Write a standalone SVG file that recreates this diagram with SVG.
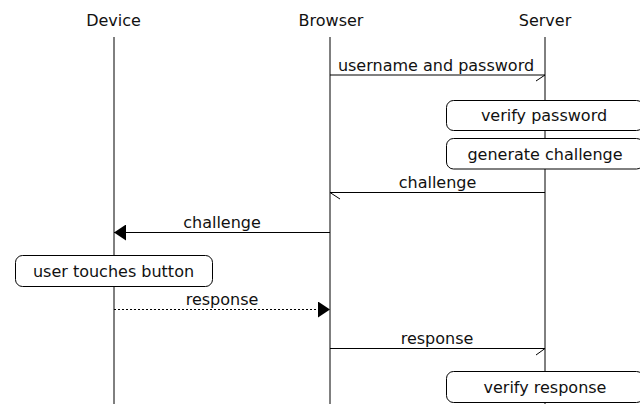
<svg xmlns="http://www.w3.org/2000/svg" width="640" height="404" viewBox="0 0 640 404">
  <style>
    text { font-family: "DejaVu Sans", "Liberation Sans", sans-serif; font-size: 16px; fill: #111; text-anchor: middle; }
    .life { stroke: #000; stroke-width: 1; }
    .msg { stroke: #000; stroke-width: 1; fill: none; }
    .dot { stroke-dasharray: 2 2; }
    .box { fill: #fff; stroke: #000; stroke-width: 1; }
  </style>
  <defs>
    <marker id="filled" viewBox="0 0 12 16" refX="12" refY="8" markerWidth="12" markerHeight="16" markerUnits="userSpaceOnUse" orient="auto">
      <path d="M0,0 L12,8 L0,16 Z" fill="#000"/>
    </marker>
  </defs>
  <rect width="640" height="404" fill="#fff"/>

  <!-- entities and lifelines -->
  <g id="device">
    <text x="113.5" y="26">Device</text>
    <line class="life" x1="114" y1="37" x2="114" y2="404"/>
  </g>
  <g id="browser">
    <text x="331" y="26">Browser</text>
    <line class="life" x1="330" y1="37" x2="330" y2="404"/>
  </g>
  <g id="server">
    <text x="545" y="26">Server</text>
    <line class="life" x1="545" y1="37" x2="545" y2="404"/>
  </g>

  <!-- messages -->
  <g id="connectors">
    <line class="msg" x1="330" y1="75" x2="545" y2="75"/>
    <line class="msg" x1="545" y1="75" x2="536" y2="81"/>
    <text x="436" y="71">username and password</text>

    <line class="msg" x1="545" y1="192.5" x2="330" y2="192.5"/>
    <line class="msg" x1="330" y1="192.5" x2="340" y2="199"/>
    <text x="437.5" y="188">challenge</text>

    <line class="msg" x1="330" y1="232.5" x2="114" y2="232.5" marker-end="url(#filled)"/>
    <text x="222" y="228">challenge</text>

    <line class="msg dot" x1="114" y1="309.5" x2="330" y2="309.5" marker-end="url(#filled)"/>
    <text x="222" y="305">response</text>

    <line class="msg" x1="330" y1="348.5" x2="545" y2="348.5"/>
    <line class="msg" x1="545" y1="348.5" x2="536" y2="355"/>
    <text x="437" y="344">response</text>
  </g>

  <!-- action boxes -->
  <g id="verify-password">
    <rect class="box" x="446.5" y="100.5" width="197" height="30" rx="7"/>
    <text x="544" y="121">verify password</text>
  </g>
  <g id="generate-challenge">
    <rect class="box" x="446.5" y="138.5" width="197" height="30.5" rx="7"/>
    <text x="545" y="159.5">generate challenge</text>
  </g>
  <g id="user-touches-button">
    <rect class="box" x="15.5" y="255.5" width="197" height="31" rx="7"/>
    <text x="113.5" y="276.5">user touches button</text>
  </g>
  <g id="verify-response">
    <rect class="box" x="446.5" y="371.5" width="197" height="31" rx="7"/>
    <text x="545" y="392.5">verify response</text>
  </g>
</svg>
